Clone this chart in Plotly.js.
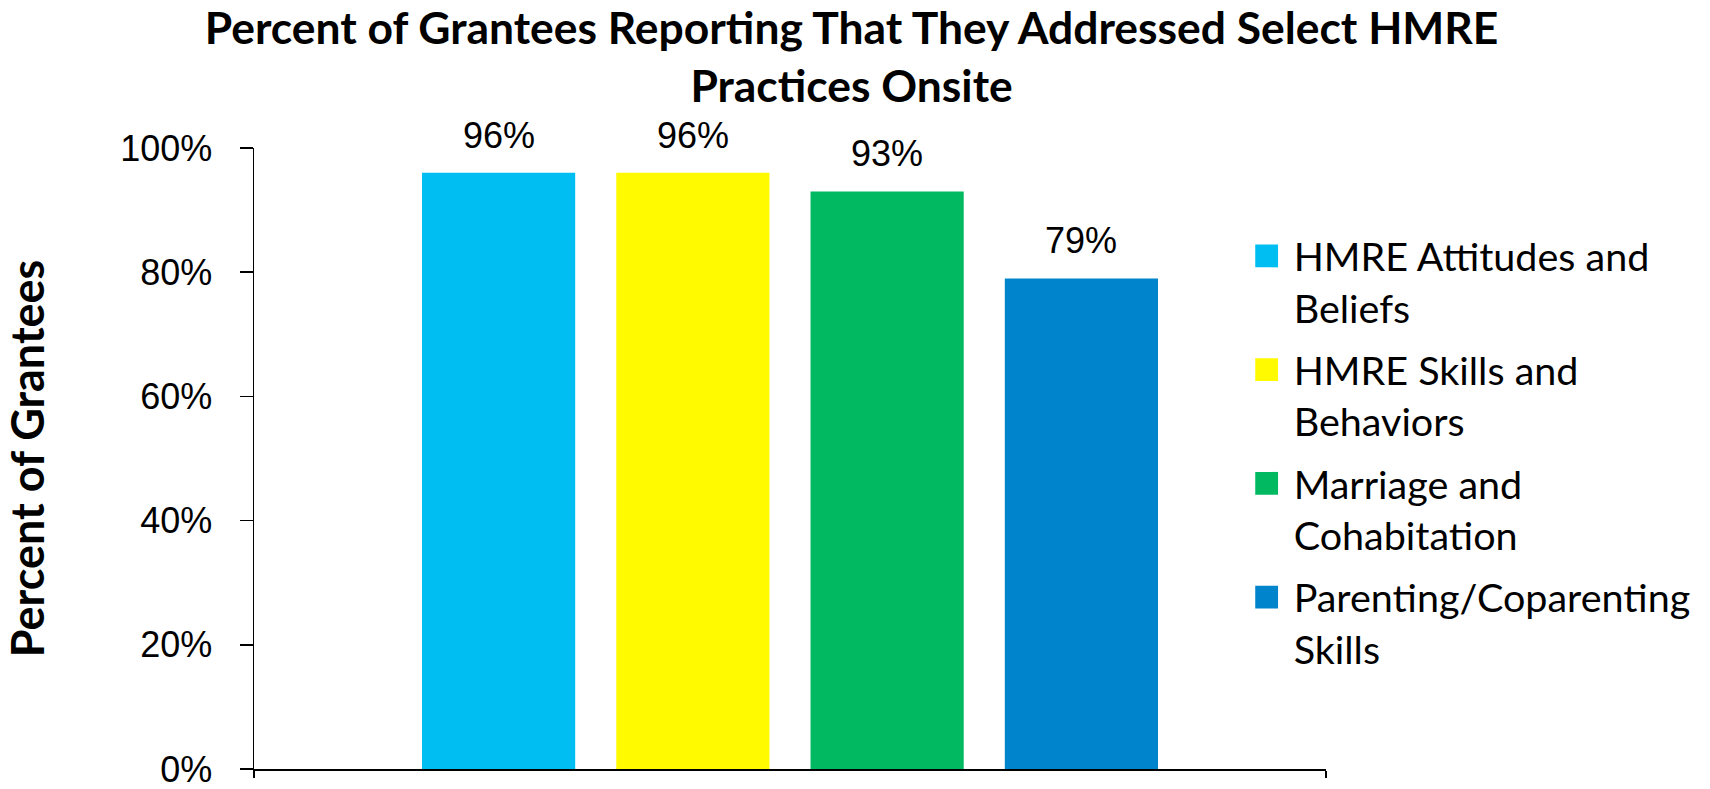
<!DOCTYPE html>
<html><head><meta charset="utf-8">
<script src="https://cdn.plot.ly/plotly-3.0.1.min.js"></script>
<style>html,body{margin:0;padding:0;background:#fff;} #chart{width:1710px;height:789px;}</style>
</head><body><div id="chart"></div>
<script>
// ---- data ----
const categories = ['HMRE Attitudes and Beliefs', 'HMRE Skills and Behaviors', 'Marriage and Cohabitation', 'Parenting/Coparenting Skills'];
const legendLabels = ['HMRE Attitudes and<br>Beliefs', 'HMRE Skills and<br>Behaviors', 'Marriage and<br>Cohabitation', 'Parenting/Coparenting<br>Skills'];
const values = [0.96, 0.96, 0.93, 0.79];
const yTickVals = [0, 0.2, 0.4, 0.6, 0.8, 1.0];
const yTickText = ['0%', '20%', '40%', '60%', '80%', '100%'];
const chartTitle = 'Percent of Grantees Reporting That They Addressed Select HMRE<br>Practices Onsite';
const yTitle = 'Percent of Grantees';

// ---- styles ----
const barColors = ['#00BEF2', '#FFFA00', '#00B960', '#0084CC'];
const titleFont = 'Lato, "Open Sans", sans-serif';
const numFont = '"Liberation Sans", Arial, sans-serif';

const traces = categories.map((c, i) => ({
  type: 'bar', x: [c], y: [values[i]], name: legendLabels[i],
  legendgroup: 'g' + i, marker: { color: barColors[i] }, hoverinfo: 'none'
}));

const annotations = categories.map((c, i) => ({
  x: c, y: values[i], xref: 'x', yref: 'y', showarrow: false,
  text: Math.round(values[i] * 100) + '%', yanchor: 'bottom', yshift: 15,
  font: { family: numFont, size: 36, color: '#000' }
}));

const layout = {
  width: 1710, height: 789,
  margin: { l: 254, r: 384, t: 148, b: 20 },
  paper_bgcolor: '#fff', plot_bgcolor: '#fff',
  title: {
    text: chartTitle, x: 0.498, xanchor: 'center', xref: 'container',
    y: 0.944, yref: 'container', yanchor: 'top',
    font: { family: titleFont, size: 44.4, weight: 'bold', color: '#000' }
  },
  barmode: 'overlay', bargap: 0.2115,
  showlegend: true,
  legend: {
    x: 0.9325, xanchor: 'left', y: 0.878, yanchor: 'top',
    font: { family: titleFont, size: 39.5, color: '#000' },
    tracegroupgap: 8, valign: 'top', bgcolor: 'rgba(0,0,0,0)', itemwidth: 30
  },
  xaxis: {
    type: 'category', range: [-1.259, 4.259], showline: true, linecolor: '#000', linewidth: 1.5,
    ticks: 'outside', ticklen: 7, tickwidth: 1.5, tickcolor: '#000',
    tickmode: 'array', tickvals: [-1.2589, 4.2589], showticklabels: false,
    showgrid: false, zeroline: false, fixedrange: true
  },
  yaxis: {
    range: [0, 1], tickmode: 'array', tickvals: yTickVals, ticktext: yTickText,
    showline: true, linecolor: '#000', linewidth: 1.5,
    ticks: 'outside', ticklen: 13, tickwidth: 1.5, tickcolor: '#000',
    tickfont: { family: numFont, size: 36, color: '#000' }, ticklabelstandoff: 20,
    ticklabeloverflow: 'allow',
    showgrid: false, zeroline: false, fixedrange: true,
    title: { text: yTitle, standoff: 72, font: { family: titleFont, size: 45, weight: 'bold', color: '#000' } }
  },
  annotations: annotations
};

Plotly.newPlot('chart', traces, layout, { staticPlot: true, displayModeBar: false }).then(() => {
  document.querySelectorAll('.legendpoints path').forEach(p => {
    const t = p.getAttribute('transform') || '';
    p.setAttribute('transform', t + ' translate(-7,0) scale(1.9)');
    p.style.strokeWidth = '0';
  });
});
</script>
</body></html>
